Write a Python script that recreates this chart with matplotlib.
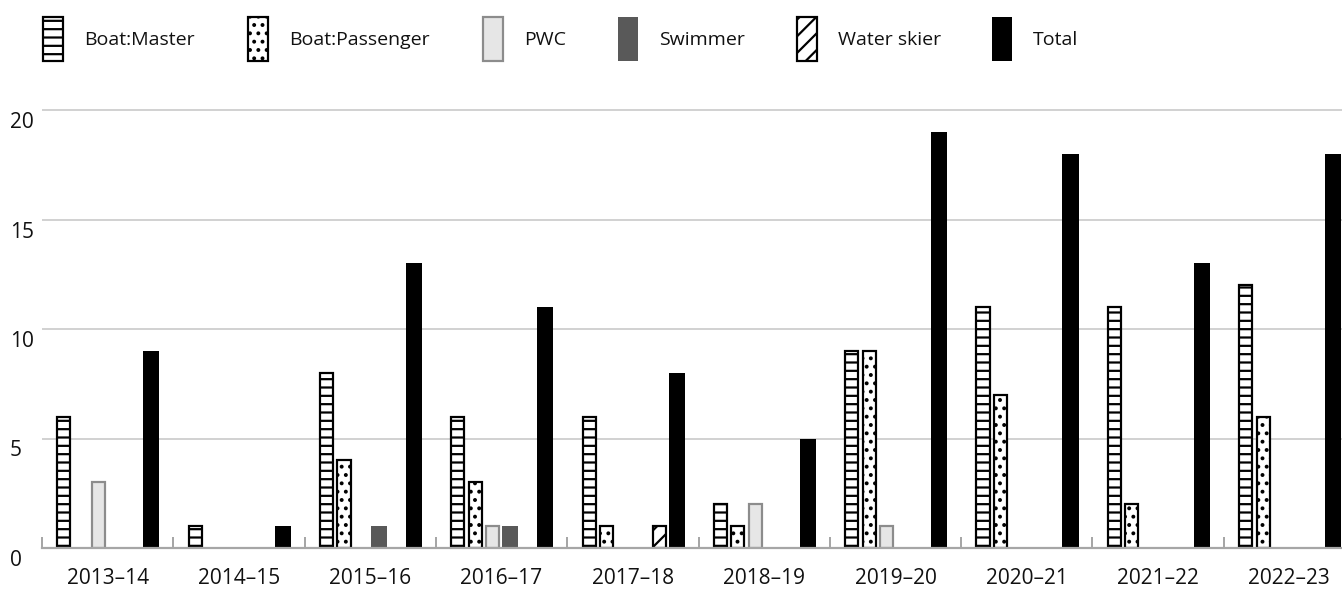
import numpy as np
import matplotlib
matplotlib.use("Agg")
import matplotlib.pyplot as plt
from matplotlib.patches import Patch
from matplotlib.transforms import ScaledTranslation

# ---- data ----
years = ["2013–14", "2014–15", "2015–16", "2016–17", "2017–18",
         "2018–19", "2019–20", "2020–21", "2021–22", "2022–23"]
boat_master = [6, 1, 8, 6, 6, 2, 9, 11, 11, 12]
boat_passenger = [0, 0, 4, 3, 1, 1, 9, 7, 2, 6]
pwc = [3, 0, 0, 1, 0, 2, 1, 0, 0, 0]
swimmer = [0, 0, 1, 1, 0, 0, 0, 0, 0, 0]
water_skier = [0, 0, 0, 0, 1, 0, 0, 0, 0, 0]
total = [9, 1, 13, 11, 8, 5, 19, 18, 13, 18]
yticks = [0, 5, 10, 15, 20]

series_names = ["Boat:Master", "Boat:Passenger", "PWC", "Swimmer", "Water skier", "Total"]
series_values = [boat_master, boat_passenger, pwc, swimmer, water_skier, total]

plt.rcParams['font.family'] = ['Open Sans', 'DejaVu Sans']
plt.rcParams['hatch.linewidth'] = 1.6

W, H, DPI = 1342, 590, 100
fig = plt.figure(figsize=(W / DPI, H / DPI), dpi=DPI)
px = 72.0 / DPI  # points per pixel

y0 = 548
unit = 21.9
ax = fig.add_axes([42 / W, (H - y0) / H, 1313 / W, 21 * unit / H])
ax.set_xlim(0, 10)
ax.set_ylim(0, 21)

styles = [
    dict(facecolor="white", edgecolor="black", hatch="--", linewidth=2.2 * px),
    dict(facecolor="white", edgecolor="black", hatch="..", linewidth=2.2 * px),
    dict(facecolor="#e6e6e6", edgecolor="#8c8c8c", linewidth=2.2 * px),
    dict(facecolor="#595959", edgecolor="none", linewidth=0),
    dict(facecolor="white", edgecolor="black", hatch="//", linewidth=2.2 * px),
    dict(facecolor="black", edgecolor="none", linewidth=0),
]
widths = [0.1, 0.1, 0.1, 0.122, 0.1, 0.122]

x = np.arange(len(years))
for j, (vals, st, w) in enumerate(zip(series_values, styles, widths)):
    v = np.array(vals, dtype=float)
    m = v > 0
    pos = x + 0.1667 + 0.1333 * j
    ax.bar(pos[m], v[m], width=w, zorder=3, **st)

# axes styling
for s in ["top", "right", "left"]:
    ax.spines[s].set_visible(False)
ax.spines["bottom"].set_color("#a6a6a6")
ax.spines["bottom"].set_linewidth(2.2 * px)
ax.spines["bottom"].set_zorder(4)

ax.set_yticks(yticks)
ax.set_yticklabels([str(t) for t in yticks])
ax.yaxis.grid(True, color="#c4c4c4", linewidth=1.5 * px, zorder=0)
ax.set_axisbelow(True)
ax.tick_params(axis="y", length=0, pad=32 * px, labelsize=15, labelcolor="#111111")
for lab in ax.get_yticklabels():
    lab.set_horizontalalignment("left")
    lab.set_transform(lab.get_transform() + ScaledTranslation(0, -10 / DPI, fig.dpi_scale_trans))

ax.set_xticks(x + 0.5)
ax.set_xticklabels(years)
ax.set_xticks(np.arange(len(years) + 1), minor=True)
ax.tick_params(axis="x", which="major", length=0, pad=20 * px, labelsize=15, labelcolor="#111111")
ax.tick_params(axis="x", which="minor", direction="in", length=11 * px, width=2 * px, color="#a6a6a6")

# legend: one entry per position
leg_x = [43, 248, 483, 618, 797, 992]
fs = 14
fs_px = fs / px
for name, st, lx in zip(series_names, styles, leg_x):
    h = Patch(**st)
    lg = fig.legend(handles=[h], labels=[name], loc="upper left",
                    bbox_to_anchor=(lx / W, 1 - 17 / H), frameon=False,
                    borderpad=0, borderaxespad=0, fontsize=fs,
                    handlelength=20 / fs_px, handleheight=3.1,
                    handletextpad=21 / fs_px)
    for t in lg.get_texts():
        t.set_color("#111111")

fig.savefig("out.png", dpi=DPI)
